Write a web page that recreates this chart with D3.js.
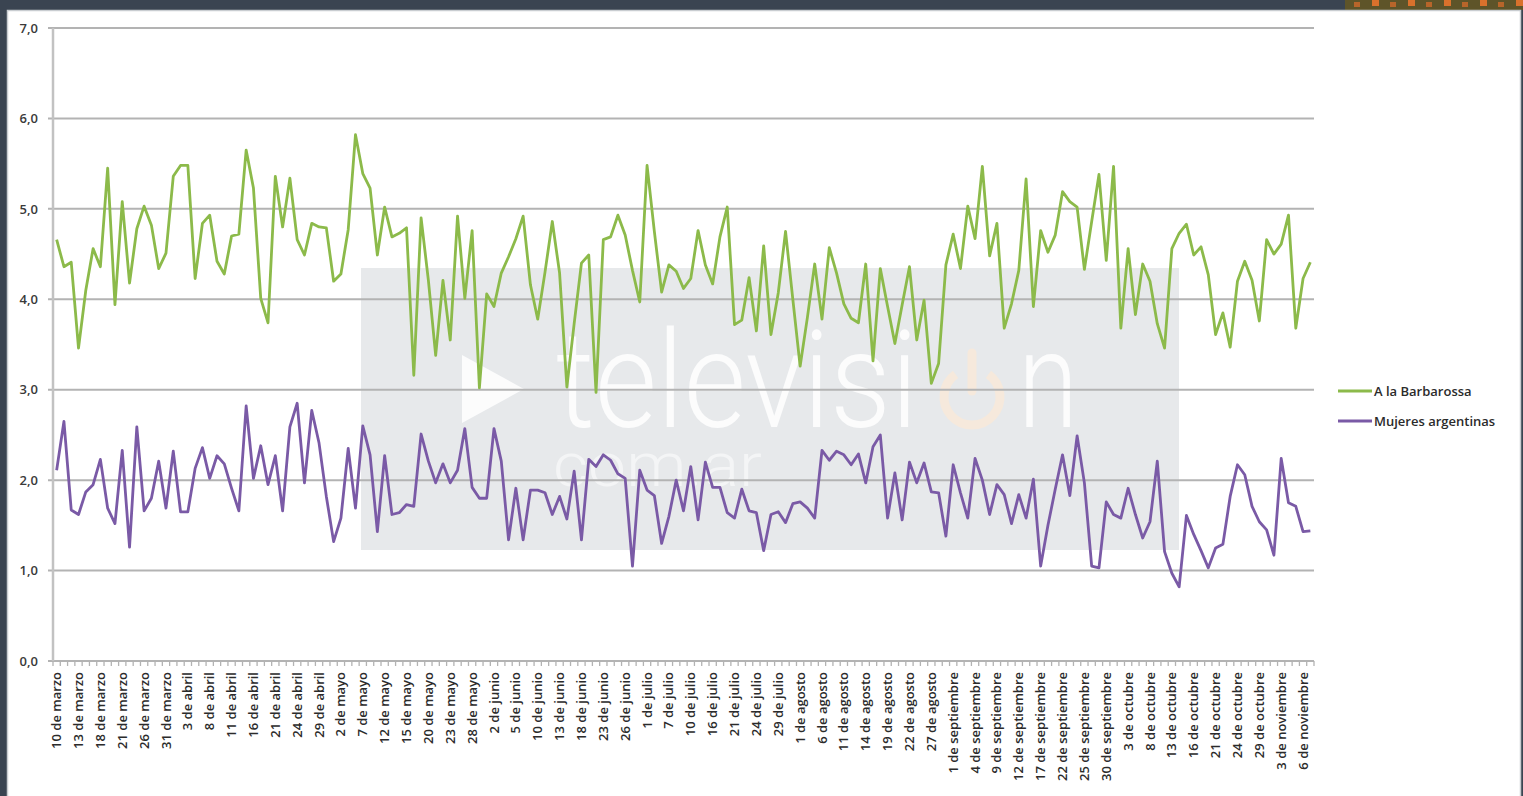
<!DOCTYPE html>
<html>
<head>
<meta charset="utf-8">
<script src="https://cdn.jsdelivr.net/npm/d3@7"></script>
<style>
  html, body { margin: 0; padding: 0; background: #3a4451; }
  svg { display: block; }
</style>
</head>
<body>
<svg width="1523" height="796"></svg>
<script>
// data (weekday ratings, 10 de marzo .. 7 de noviembre)

var tickLabels = [
  "10 de marzo", "13 de marzo", "18 de marzo", "21 de marzo", "26 de marzo", "31 de marzo",
  "3 de abril", "8 de abril", "11 de abril", "16 de abril", "21 de abril", "24 de abril", "29 de abril",
  "2 de mayo", "7 de mayo", "12 de mayo", "15 de mayo", "20 de mayo", "23 de mayo", "28 de mayo",
  "2 de junio", "5 de junio", "10 de junio", "13 de junio", "18 de junio", "23 de junio", "26 de junio",
  "1 de julio", "7 de julio", "10 de julio", "16 de julio", "21 de julio", "24 de julio", "29 de julio",
  "1 de agosto", "6 de agosto", "11 de agosto", "14 de agosto", "19 de agosto", "22 de agosto", "27 de agosto",
  "1 de septiembre", "4 de septiembre", "9 de septiembre", "12 de septiembre", "17 de septiembre",
  "22 de septiembre", "25 de septiembre", "30 de septiembre",
  "3 de octubre", "8 de octubre", "13 de octubre", "16 de octubre", "21 de octubre", "24 de octubre", "29 de octubre",
  "3 de noviembre", "6 de noviembre"
];
var labelEvery = 3;

var barbarossa = [
  4.66, 4.36, 4.41, 3.46, 4.10, 4.56, 4.36, 5.45, 3.94, 5.08,
  4.18, 4.78, 5.03, 4.82, 4.34, 4.51, 5.36, 5.48, 5.48, 4.23,
  4.84, 4.93, 4.42, 4.28, 4.70, 4.72, 5.65, 5.23, 4.01, 3.74,
  5.36, 4.80, 5.34, 4.66, 4.49, 4.84, 4.80, 4.79, 4.20, 4.28,
  4.77, 5.82, 5.39, 5.23, 4.49, 5.02, 4.69, 4.73, 4.79, 3.16,
  4.90, 4.21, 3.38, 4.21, 3.55, 4.92, 4.01, 4.76, 3.02, 4.06,
  3.92, 4.29, 4.47, 4.67, 4.92, 4.16, 3.78, 4.30, 4.86, 4.29,
  3.03, 3.73, 4.40, 4.49, 2.97, 4.66, 4.69, 4.93, 4.71, 4.32,
  3.97, 5.48, 4.75, 4.08, 4.38, 4.31, 4.12, 4.23, 4.76, 4.38,
  4.17, 4.69, 5.02, 3.72, 3.77, 4.24, 3.65, 4.59, 3.61, 4.07,
  4.75, 4.00, 3.26, 3.80, 4.39, 3.78, 4.57, 4.29, 3.95, 3.79,
  3.74, 4.39, 3.32, 4.34, 3.92, 3.51, 3.94, 4.36, 3.55, 3.99,
  3.07, 3.29, 4.38, 4.72, 4.34, 5.03, 4.67, 5.47, 4.48, 4.84,
  3.68, 3.95, 4.32, 5.33, 3.92, 4.76, 4.52, 4.71, 5.19, 5.08,
  5.02, 4.33, 4.86, 5.38, 4.43, 5.47, 3.68, 4.56, 3.83, 4.39,
  4.20, 3.73, 3.46, 4.56, 4.73, 4.83, 4.49, 4.58, 4.27, 3.61,
  3.85, 3.47, 4.20, 4.42, 4.21, 3.76, 4.66, 4.50, 4.61, 4.93,
  3.68, 4.23, 4.41
];

var mujeres = [
  2.11, 2.65, 1.67, 1.62, 1.87, 1.95, 2.23, 1.69, 1.52, 2.33,
  1.26, 2.59, 1.66, 1.80, 2.21, 1.69, 2.32, 1.65, 1.65, 2.13,
  2.36, 2.02, 2.27, 2.18, 1.91, 1.66, 2.82, 2.02, 2.38, 1.95,
  2.27, 1.66, 2.59, 2.85, 1.97, 2.77, 2.41, 1.82, 1.32, 1.58,
  2.35, 1.69, 2.60, 2.28, 1.43, 2.27, 1.62, 1.64, 1.73, 1.71,
  2.51, 2.21, 1.97, 2.18, 1.97, 2.11, 2.57, 1.92, 1.80, 1.80,
  2.57, 2.21, 1.34, 1.91, 1.34, 1.89, 1.89, 1.86, 1.62, 1.82,
  1.57, 2.10, 1.34, 2.23, 2.15, 2.28, 2.22, 2.07, 2.02, 1.05,
  2.11, 1.89, 1.83, 1.30, 1.60, 2.00, 1.66, 2.15, 1.56, 2.20,
  1.92, 1.92, 1.64, 1.58, 1.90, 1.66, 1.64, 1.22, 1.62, 1.65,
  1.53, 1.74, 1.76, 1.69, 1.58, 2.33, 2.22, 2.32, 2.28, 2.17,
  2.29, 1.97, 2.37, 2.50, 1.58, 2.08, 1.56, 2.20, 1.97, 2.19,
  1.87, 1.86, 1.38, 2.17, 1.86, 1.58, 2.24, 2.00, 1.62, 1.95,
  1.84, 1.52, 1.84, 1.58, 2.01, 1.05, 1.50, 1.90, 2.28, 1.83,
  2.49, 1.97, 1.05, 1.03, 1.76, 1.62, 1.58, 1.91, 1.62, 1.36,
  1.54, 2.21, 1.21, 0.97, 0.82, 1.61, 1.40, 1.22, 1.03, 1.25,
  1.29, 1.82, 2.17, 2.06, 1.71, 1.54, 1.45, 1.17, 2.24, 1.75,
  1.71, 1.43, 1.44
];

var seriesNames = ["A la Barbarossa", "Mujeres argentinas"];
var seriesColors = ["#8cba4a", "#7a5aa6"];
var yTicks = [0, 1, 2, 3, 4, 5, 6, 7];

// presets

var svg = d3.select("svg");
var plot = { left: 53, right: 1314, top: 28, bottom: 661 };
var font = "'Open Sans', 'DejaVu Sans', sans-serif";

var days = d3.range(barbarossa.length);

var x = d3.scaleBand()
  .domain(days)
  .range([plot.left, plot.right])
  .paddingInner(0)
  .paddingOuter(0);

var y = d3.scaleLinear()
  .domain([0, 7])
  .range([plot.bottom, plot.top]);

function xc(i) {
  return x(i) + x.bandwidth() / 2;
}

// frame

svg.append("rect")
  .attr("x", 0).attr("y", 0)
  .attr("width", 1523).attr("height", 796)
  .attr("fill", "#3a4451");

var defs = svg.append("defs");
var pat = defs.append("pattern")
  .attr("id", "strip")
  .attr("patternUnits", "userSpaceOnUse")
  .attr("width", 36).attr("height", 10);
pat.append("rect").attr("width", 36).attr("height", 10).attr("fill", "#5e5429");
pat.append("rect").attr("x", 4).attr("y", 0).attr("width", 7).attr("height", 6).attr("fill", "#d9712c");
pat.append("rect").attr("x", 22).attr("y", 2).attr("width", 6).attr("height", 5).attr("fill", "#b8652a");

svg.append("rect")
  .attr("x", 1345).attr("y", 0)
  .attr("width", 178).attr("height", 10)
  .attr("fill", "url(#strip)");

svg.append("rect")
  .attr("x", 7.5).attr("y", 10.5)
  .attr("width", 1513).attr("height", 790)
  .attr("fill", "#ffffff")
  .attr("stroke", "#c9cdd1")
  .attr("stroke-width", 1.5);

// watermark (one text element, power icon drawn in place of the "o")

var wm = svg.append("g").attr("class", "watermark");
wm.append("rect")
  .attr("x", 361).attr("y", 268)
  .attr("width", 818).attr("height", 282)
  .attr("fill", "#e7e9eb");
wm.append("path")
  .attr("d", d3.line()([[462, 355], [462, 423], [524, 389]]) + "Z")
  .attr("fill", "#ffffff")
  .attr("opacity", 0.85);

var power = wm.append("g")
  .attr("transform", "translate(972,397)")
  .attr("fill", "none")
  .attr("stroke", "#f6e9dc")
  .attr("stroke-width", 9)
  .attr("stroke-linecap", "round");
power.append("path")
  .attr("d", d3.arc()
    .innerRadius(28).outerRadius(28)
    .startAngle(Math.PI * 0.2).endAngle(Math.PI * 1.8)());
power.append("line")
  .attr("x1", 0).attr("x2", 0)
  .attr("y1", -44).attr("y2", -6);

var wt = wm.append("text")
  .attr("font-family", "Roboto, sans-serif")
  .attr("font-weight", 300)
  .attr("fill", "#ffffff");
wt.append("tspan")
  .attr("x", 556).attr("y", 427)
  .attr("font-size", 136)
  .attr("textLength", 362)
  .attr("lengthAdjust", "spacingAndGlyphs")
  .attr("fill-opacity", 0.85)
  .text("televisi");
wt.append("tspan")
  .attr("x", 1018).attr("y", 427)
  .attr("font-size", 136)
  .attr("textLength", 60)
  .attr("lengthAdjust", "spacingAndGlyphs")
  .attr("fill-opacity", 0.85)
  .text("n");
wt.append("tspan")
  .attr("x", 553).attr("y", 486)
  .attr("font-size", 62)
  .attr("textLength", 209)
  .attr("lengthAdjust", "spacingAndGlyphs")
  .attr("fill-opacity", 0.55)
  .text("com.ar");

// grid and axes

var axisColor = "#b3b3b3";

svg.append("g")
  .selectAll("line")
  .data(yTicks)
  .join("line")
  .attr("x1", plot.left - 5)
  .attr("x2", plot.right)
  .attr("y1", function(d) { return y(d); })
  .attr("y2", function(d) { return y(d); })
  .attr("stroke", axisColor)
  .attr("stroke-width", 2);

svg.append("line")
  .attr("x1", plot.left).attr("x2", plot.left)
  .attr("y1", plot.top).attr("y2", plot.bottom)
  .attr("stroke", "#c2c2c2")
  .attr("stroke-width", 2.5);

// tick marks between categories
svg.append("g")
  .selectAll("line")
  .data(days.concat([days.length]))
  .join("line")
  .attr("x1", function(d) { return d < days.length ? x(d) : plot.right; })
  .attr("x2", function(d) { return d < days.length ? x(d) : plot.right; })
  .attr("y1", plot.bottom)
  .attr("y2", plot.bottom + 5)
  .attr("stroke", axisColor)
  .attr("stroke-width", 1.3);

var yAxis = svg.append("g")
  .attr("transform", "translate(" + plot.left + ",0)")
  .call(d3.axisLeft(y)
    .tickValues(yTicks)
    .tickSize(0)
    .tickPadding(15)
    .tickFormat(function(d) { return d3.format(".1f")(d).replace(".", ","); }));
yAxis.select(".domain").remove();
yAxis.selectAll("text")
  .attr("font-family", font)
  .attr("font-size", 13)
  .attr("font-weight", 600)
  .attr("fill", "#3a3a3a");

svg.append("g")
  .selectAll("text")
  .data(tickLabels)
  .join("text")
  .attr("transform", function(d, k) {
    return "translate(" + xc(k * labelEvery) + "," + (plot.bottom + 11) + ") rotate(-90)";
  })
  .attr("text-anchor", "end")
  .attr("dy", "0.35em")
  .attr("font-family", font)
  .attr("font-size", 13)
  .attr("font-weight", 600)
  .attr("fill", "#2b2b2b")
  .text(function(d) { return d; });

// series

var line = d3.line()
  .x(function(d, i) { return xc(i); })
  .y(function(d) { return y(d); });

svg.append("g")
  .selectAll("path")
  .data([barbarossa, mujeres])
  .join("path")
  .attr("d", line)
  .attr("fill", "none")
  .attr("stroke", function(d, i) { return seriesColors[i]; })
  .attr("stroke-width", 2.8)
  .attr("stroke-linejoin", "round");

// legend

var legend = svg.append("g")
  .selectAll("g")
  .data(seriesNames)
  .join("g")
  .attr("transform", function(d, i) { return "translate(1338," + (391 + i * 30) + ")"; });

legend.append("line")
  .attr("x1", 0).attr("x2", 34)
  .attr("stroke", function(d, i) { return seriesColors[i]; })
  .attr("stroke-width", 3);

legend.append("text")
  .attr("x", 36)
  .attr("dy", "0.35em")
  .attr("font-family", font)
  .attr("font-size", 13)
  .attr("font-weight", 600)
  .attr("fill", "#2b2b2b")
  .text(function(d) { return d; });
</script>
</body>
</html>
